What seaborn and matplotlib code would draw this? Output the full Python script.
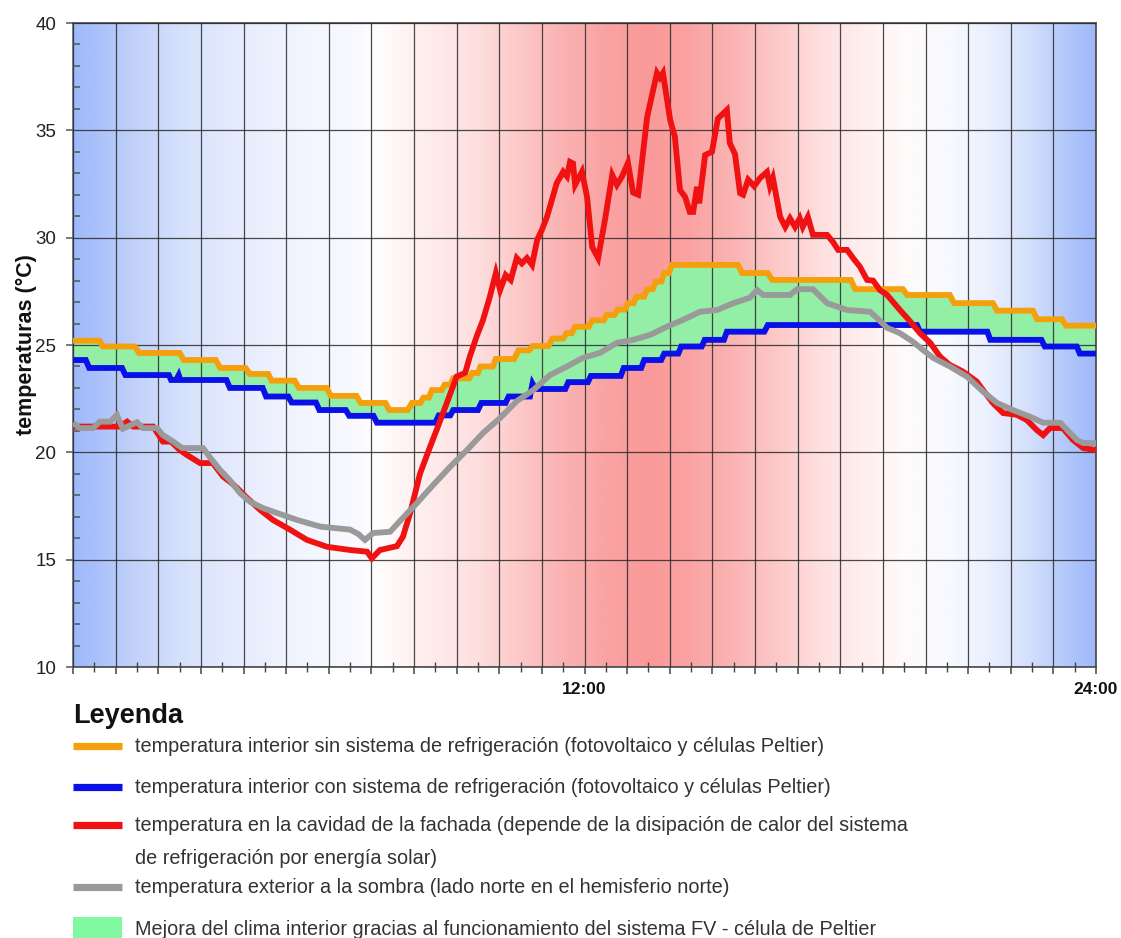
import numpy as np
import pandas as pd
import matplotlib
matplotlib.use("Agg")
import matplotlib.pyplot as plt
import seaborn as sns
from matplotlib.lines import Line2D
from matplotlib.patches import Rectangle
from matplotlib.ticker import MultipleLocator

# ---------------- data ----------------
orange_h = [0, 0.62, 0.7, 1.45, 1.55, 2.5, 2.6, 3.35, 3.45, 4.05, 4.15, 4.58, 4.66, 5.2, 5.3, 5.95, 6.05,
            6.65, 6.75, 7.33, 7.42, 7.85, 7.95, 8.15, 8.22, 8.35, 8.42, 8.65, 8.72, 8.85, 8.92, 9.3, 9.36,
            9.5, 9.56, 9.85, 9.92, 10.35, 10.45, 10.7, 10.78, 11.15, 11.25, 11.5, 11.58, 11.7, 11.78,
            12.1, 12.18, 12.45, 12.52, 12.7, 12.78, 12.95, 13.02, 13.15, 13.22, 13.4, 13.47, 13.6, 13.67,
            13.8, 13.87, 13.98, 14.05, 15.6, 15.7, 16.3, 16.4, 18.25, 18.35, 19.47, 19.57, 20.57, 20.67,
            21.58, 21.68, 22.52, 22.62, 23.2, 23.3, 24]
orange_t = [25.2, 25.2, 24.93, 24.93, 24.63, 24.63, 24.3, 24.3, 23.93, 23.93, 23.65, 23.65, 23.34, 23.34,
            23.0, 23.0, 22.63, 22.63, 22.3, 22.3, 21.97, 21.97, 22.3, 22.3, 22.55, 22.55, 22.9, 22.9,
            23.15, 23.15, 23.45, 23.45, 23.7, 23.7, 24.0, 24.0, 24.35, 24.35, 24.75, 24.75, 24.95, 24.95,
            25.3, 25.3, 25.55, 25.55, 25.85, 25.85, 26.15, 26.15, 26.4, 26.4, 26.65, 26.65, 26.95, 26.95,
            27.25, 27.25, 27.6, 27.6, 27.95, 27.95, 28.35, 28.35, 28.73, 28.73, 28.35, 28.35, 28.03,
            28.03, 27.6, 27.6, 27.33, 27.33, 26.95, 26.95, 26.6, 26.6, 26.2, 26.2, 25.9, 25.9]

blue_h = [0, 0.3, 0.38, 1.15, 1.23, 2.25, 2.3, 2.42, 2.48, 2.52, 3.6, 3.68, 4.45, 4.53, 5.05, 5.13, 5.7,
          5.78, 6.4, 6.48, 7.05, 7.13, 8.5, 8.58, 8.85, 8.92, 9.5, 9.58, 10.15, 10.22, 10.72, 10.78, 10.85,
          11.55, 11.62, 12.08, 12.15, 12.85, 12.92, 13.33, 13.4, 13.8, 13.87, 14.2, 14.27, 14.75, 14.82,
          15.27, 15.34, 16.22, 16.3, 19.8, 19.87, 21.45, 21.52, 22.72, 22.8, 23.55, 23.62, 24]
blue_t = [24.3, 24.3, 23.93, 23.93, 23.6, 23.6, 23.37, 23.37, 23.6, 23.37, 23.37, 23.0, 23.0, 22.6, 22.6,
          22.32, 22.32, 21.97, 21.97, 21.7, 21.7, 21.38, 21.38, 21.72, 21.72, 21.97, 21.97, 22.3, 22.3,
          22.6, 22.6, 23.2, 22.95, 22.95, 23.27, 23.27, 23.56, 23.56, 23.93, 23.93, 24.3, 24.3, 24.6,
          24.6, 24.93, 24.93, 25.24, 25.24, 25.62, 25.62, 25.93, 25.93, 25.62, 25.62, 25.24, 25.24,
          24.93, 24.93, 24.6, 24.6]

red_h = [0, 1.1, 1.27, 1.41, 1.88, 2.11, 2.3, 2.51, 2.67, 2.98, 3.28, 3.52, 3.7, 3.85, 4.08, 4.39, 4.69,
         5.09, 5.49, 5.96, 6.5, 6.9, 7.01, 7.2, 7.6, 7.74, 7.91, 8.14, 8.38, 8.53, 8.77, 9.0, 9.2, 9.31,
         9.47, 9.62, 9.78, 9.92, 10.02, 10.15, 10.27, 10.41, 10.53, 10.65, 10.77, 10.89, 11.0, 11.12,
         11.35, 11.5, 11.59, 11.66, 11.73, 11.78, 11.94, 12.06, 12.18, 12.32, 12.48, 12.65, 12.76, 12.88,
         13.02, 13.14, 13.26, 13.47, 13.7, 13.77, 13.84, 14.01, 14.12, 14.24, 14.36, 14.47, 14.55, 14.64,
         14.69, 14.83, 14.99, 15.13, 15.34, 15.41, 15.53, 15.65, 15.72, 15.84, 15.98, 16.12, 16.28,
         16.35, 16.42, 16.59, 16.71, 16.82, 16.94, 17.05, 17.12, 17.24, 17.36, 17.69, 17.83, 17.95,
         18.16, 18.3, 18.46, 18.63, 18.77, 18.93, 19.1, 19.4, 19.64, 19.87, 20.11, 20.34, 20.57, 20.88,
         21.2, 21.35, 21.58, 21.82, 22.14, 22.38, 22.61, 22.76, 22.92, 23.22, 23.46, 23.7, 24]
red_t = [21.2, 21.2, 21.43, 21.2, 21.2, 20.5, 20.5, 20.1, 19.88, 19.5, 19.5, 18.87, 18.6, 18.34, 17.88,
         17.32, 16.85, 16.4, 15.92, 15.6, 15.45, 15.37, 15.06, 15.45, 15.63, 16.07, 17.17, 19.0, 20.27,
         21.04, 22.3, 23.53, 23.7, 24.46, 25.4, 26.17, 27.25, 28.35, 27.56, 28.26, 28.03, 29.05, 28.8,
         29.05, 28.73, 29.9, 30.36, 30.97, 32.55, 33.07, 32.85, 33.53, 33.46, 32.46, 33.07, 31.9, 29.57,
         29.05, 30.83, 32.92, 32.46, 32.85, 33.48, 32.1, 32.0, 35.63, 37.67, 37.45, 37.67, 35.48, 34.7,
         32.22, 31.9, 31.2, 31.2, 32.37, 31.6, 33.85, 34.0, 35.55, 35.95, 34.4, 33.9, 32.07, 32.0, 32.7,
         32.4, 32.78, 33.06, 32.4, 32.78, 30.97, 30.5, 30.9, 30.5, 30.9, 30.5, 30.97, 30.13, 30.13, 29.8,
         29.43, 29.43, 29.05, 28.65, 28.03, 28.0, 27.56, 27.33, 26.63, 26.1, 25.55, 25.1, 24.46, 24.07,
         23.76, 23.3, 22.9, 22.3, 21.83, 21.75, 21.5, 21.04, 20.8, 21.13, 21.13, 20.58, 20.2, 20.1]

gray_h = [0, 0.16, 0.47, 0.63, 0.87, 1.03, 1.17, 1.5, 1.64, 1.97, 2.11, 2.35, 2.56, 3.05, 3.2, 3.45, 3.68,
          3.92, 4.15, 4.46, 4.79, 5.26, 5.8, 6.5, 6.69, 6.85, 7.04, 7.44, 7.67, 8.07, 8.45, 8.85, 9.24,
          9.62, 10.02, 10.42, 10.8, 11.19, 11.59, 11.96, 12.36, 12.76, 13.14, 13.54, 13.94, 14.31, 14.71,
          15.11, 15.48, 15.88, 16.05, 16.19, 16.82, 16.99, 17.36, 17.69, 18.16, 18.7, 18.86, 19.1, 19.4,
          19.7, 19.94, 20.18, 20.57, 20.97, 21.35, 21.68, 22.05, 22.45, 22.76, 23.16, 23.55, 23.7, 24]
gray_t = [21.37, 21.13, 21.13, 21.43, 21.43, 21.74, 21.1, 21.4, 21.13, 21.13, 20.8, 20.5, 20.2, 20.2, 19.8,
          19.18, 18.7, 18.1, 17.7, 17.4, 17.17, 16.85, 16.54, 16.4, 16.2, 15.92, 16.24, 16.3, 16.8, 17.64,
          18.48, 19.33, 20.1, 20.9, 21.6, 22.4, 22.9, 23.6, 24.0, 24.4, 24.63, 25.1, 25.24, 25.47, 25.86,
          26.17, 26.55, 26.63, 26.94, 27.2, 27.56, 27.33, 27.33, 27.6, 27.6, 26.95, 26.63, 26.55, 26.26,
          25.8, 25.55, 25.16, 24.77, 24.4, 24.0, 23.53, 22.83, 22.3, 21.97, 21.66, 21.38, 21.38, 20.58,
          20.43, 20.43]

x_tick_labels = {12: "12:00", 24: "24:00"}
y_ticks = [10, 15, 20, 25, 30, 35, 40]

legend_title = "Leyenda"
legend_labels = [
    "temperatura interior sin sistema de refrigeración (fotovoltaico y células Peltier)",
    "temperatura interior con sistema de refrigeración (fotovoltaico y células Peltier)",
    "temperatura en la cavidad de la fachada (depende de la disipación de calor del sistema\nde refrigeración por energía solar)",
    "temperatura exterior a la sombra (lado norte en el hemisferio norte)",
    "Mejora del clima interior gracias al funcionamiento del sistema FV - célula de Peltier",
]

# ---------------- style ----------------
sns.set_theme(style="white")
plt.rcParams["font.family"] = ["Liberation Sans", "DejaVu Sans"]

C_ORANGE = "#f4a00c"
C_BLUE = "#0a10e8"
C_RED = "#f01212"
C_GRAY = "#9a9a9a"
C_FILL = "#93eea6"
C_LEG_GREEN = "#80f9a0"

W, H = 1121, 938
fig = plt.figure(figsize=(W / 100, H / 100), dpi=100)
ax = fig.add_axes([73 / W, 1 - 667 / H, (1096 - 73) / W, (667 - 23) / H])

# background gradient (blue night -> red midday -> blue night)
stops_h = [0, 0.5, 1.5, 2.5, 3.5, 4.5, 5.5, 6.5, 7.2, 8.0, 9.5, 10.5, 11.5, 12.5, 13.5, 14.5, 15.5, 16.5,
           17.5, 18.5, 19.5, 20.5, 21.5, 22.5, 23.5, 24]
stops_c = [(160, 185, 250), (168, 192, 250), (195, 210, 250), (212, 224, 252), (226, 233, 253),
           (236, 240, 254), (243, 246, 254), (248, 249, 255), (255, 253, 253), (255, 240, 240),
           (254, 222, 222), (252, 200, 200), (250, 178, 178), (250, 163, 163), (250, 153, 153),
           (250, 163, 163), (251, 180, 180), (252, 200, 200), (254, 222, 222), (255, 238, 238),
           (255, 250, 250), (248, 250, 255), (235, 240, 254), (210, 222, 252), (172, 195, 250),
           (160, 185, 250)]
gx = np.linspace(0, 24, 1200)
sc = np.array(stops_c) / 255.0
grad = np.stack([np.interp(gx, stops_h, sc[:, k]) for k in range(3)], axis=-1)[None, :, :]
ax.imshow(grad, extent=[0, 24, 10, 40], aspect="auto", interpolation="bilinear", zorder=0)

# green improvement area
fx = np.linspace(0, 24, 4801)
fo = np.interp(fx, orange_h, orange_t)
fb = np.interp(fx, blue_h, blue_t)
ax.fill_between(fx, fb, fo, where=fo > fb, color=C_FILL, lw=0, zorder=1, interpolate=True)

# lines
series = [
    (orange_h, orange_t, C_ORANGE, 3),
    (blue_h, blue_t, C_BLUE, 4),
    (red_h, red_t, C_RED, 5),
    (gray_h, gray_t, C_GRAY, 6),
]
for hh, tt, col, z in series:
    df = pd.DataFrame({"hora": hh, "temp": tt})
    sns.lineplot(data=df, x="hora", y="temp", color=col, lw=4.2, sort=False, estimator=None,
                 ax=ax, zorder=z, solid_joinstyle="miter", solid_capstyle="butt")

ax.set_xlim(0, 24)
ax.set_ylim(10, 40)
ax.set_xlabel("")
ax.set_ylabel("temperaturas (°C)", fontsize=15.5, fontweight="bold", color="#111")
ax.yaxis.set_label_coords((37 - 73) / (1096 - 73), 0.5)

ax.set_xticks(range(25), labels=[x_tick_labels.get(i, "") for i in range(25)],
              fontweight="bold", fontsize=12.5, color="#111")
ax.xaxis.set_minor_locator(MultipleLocator(0.5))
ax.set_yticks(y_ticks, labels=[str(v) for v in y_ticks], fontsize=13.5, color="#222")
ax.yaxis.set_minor_locator(MultipleLocator(1))

ax.tick_params(axis="x", which="major", direction="out", length=5, width=1.1, color="#444", pad=6, bottom=True)
ax.tick_params(axis="x", which="minor", direction="inout", length=7, width=1.0, color="#444", bottom=True)
ax.tick_params(axis="y", which="major", direction="out", length=5, width=1.1, color="#555", pad=7, left=True)
ax.tick_params(axis="y", which="minor", direction="in", length=5, width=1.1, color="#555", left=True)

ax.set_axisbelow(False)
ax.grid(True, which="major", color="#2a2a2a", lw=0.9, alpha=0.85)
for name, sp in ax.spines.items():
    sp.set_visible(True)
    sp.set_color("#555")
    sp.set_linewidth(1.3)
ax.spines["left"].set_color("#66708a")

# ---------------- legend (below the chart) ----------------
def fy(py):
    return 1 - py / H

fig.text(73 / W, fy(716), legend_title, fontsize=19.5, fontweight="bold", va="center", ha="left", color="#111")
leg_cols = [C_ORANGE, C_BLUE, C_RED, C_GRAY]
leg_y = [746, 787, 825, 887]
LFS = 14.3
for col, lab, py in zip(leg_cols, legend_labels[:4], leg_y):
    fig.add_artist(Line2D([73 / W, 122 / W], [fy(py), fy(py)], transform=fig.transFigure,
                          color=col, lw=5.2, solid_capstyle="butt"))
    for i, line in enumerate(lab.split("\n")):
        fig.text(135 / W, fy(py + 33 * i), line, fontsize=LFS, va="center", ha="left", color="#333")
fig.add_artist(Rectangle((73 / W, 0), 49 / W, (938 - 917) / H, transform=fig.transFigure,
                         color=C_LEG_GREEN, lw=0))
fig.text(135 / W, fy(929), legend_labels[4], fontsize=LFS, va="center", ha="left", color="#333")

fig.savefig("out.png", dpi=100)
